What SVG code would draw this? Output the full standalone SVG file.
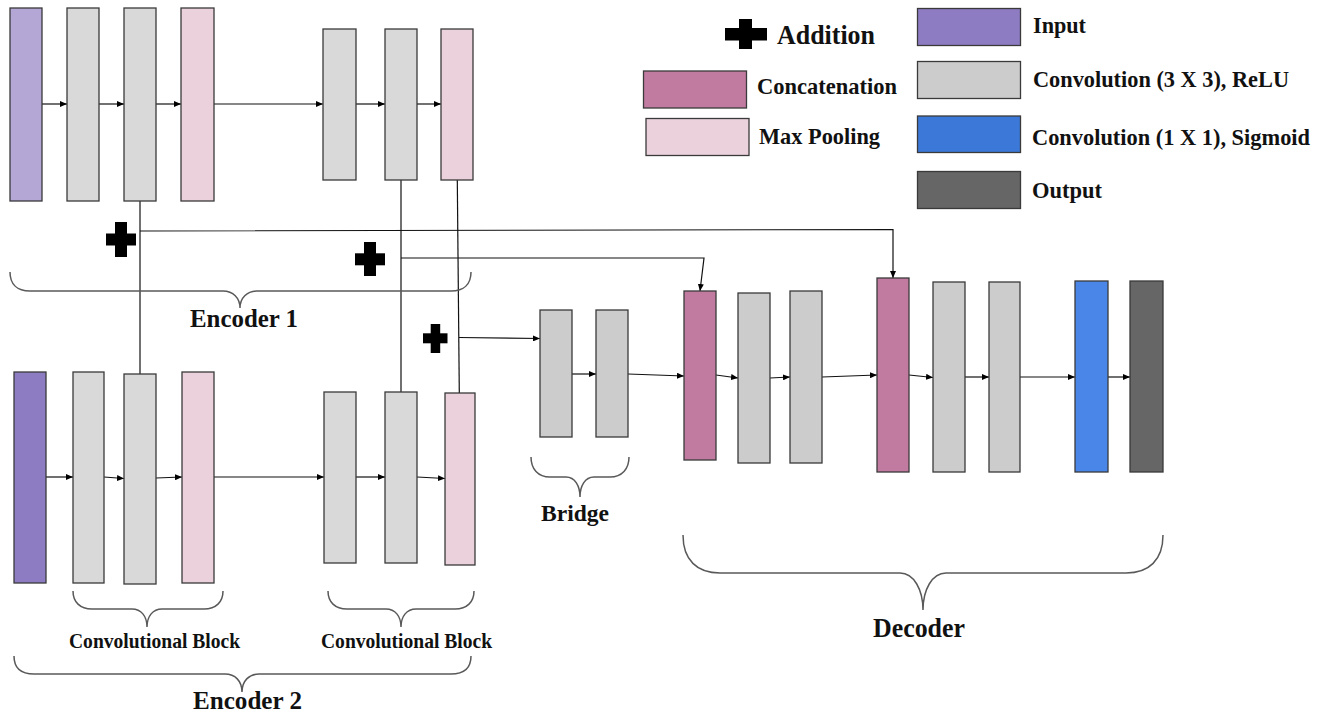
<svg xmlns="http://www.w3.org/2000/svg" width="1329" height="715" viewBox="0 0 1329 715">
<defs>
<marker id="ah" markerUnits="userSpaceOnUse" markerWidth="8" markerHeight="6" refX="7" refY="3" orient="auto">
<path d="M0,0 L7,3 L0,6 z" fill="#000"/>
</marker>
</defs>
<style>
.box{stroke:#3a3a3a;stroke-width:1.3}
.in1{fill:#b4a7d6}.in2{fill:#8e7cc3}
.cv1{fill:#d9d9d9}.cv2{fill:#cccccc}
.mp{fill:#ead1dc}.cc{fill:#c27ba0}
.sg{fill:#4a86e8}.sgl{fill:#3c78d8}.out{fill:#666666}
.ln{fill:none;stroke:#111;stroke-width:1.2}
.ar{fill:none;stroke:#111;stroke-width:1.2;marker-end:url(#ah)}
.br{fill:none;stroke:#595959;stroke-width:1.5}
.plus{fill:#000}
text{font-family:"Liberation Serif","Times New Roman",serif;font-weight:bold;fill:#111}
.lg{font-size:22.5px}
.lbl{font-size:26px}
.cb{font-size:21px}
</style>
<rect width="1329" height="715" fill="#fff"/>

<g id="connectors">
<line class="ar" x1="42" y1="104" x2="67" y2="104"/>
<line class="ar" x1="99" y1="104" x2="124" y2="104"/>
<line class="ar" x1="156" y1="104" x2="181" y2="104"/>
<line class="ar" x1="214" y1="104" x2="323" y2="104"/>
<line class="ar" x1="356" y1="104" x2="385" y2="104"/>
<line class="ar" x1="417" y1="104" x2="441" y2="104"/>
<line class="ar" x1="46" y1="477" x2="73" y2="477"/>
<line class="ar" x1="104" y1="477" x2="124" y2="478.5"/>
<line class="ar" x1="156" y1="478" x2="182" y2="477"/>
<line class="ar" x1="214" y1="477" x2="324" y2="477"/>
<line class="ar" x1="356" y1="477" x2="385" y2="477"/>
<line class="ar" x1="417" y1="477" x2="445" y2="478.5"/>
<line class="ln" x1="140" y1="201" x2="140" y2="374"/>
<line class="ln" x1="401" y1="180" x2="401" y2="392"/>
<line class="ln" x1="457.3" y1="180" x2="459.3" y2="393"/>
<polyline class="ar" points="140,231 893,229.5 893,278"/>
<polyline class="ar" points="401,258 704,258 700,291"/>
<line class="ar" x1="459" y1="337.5" x2="540" y2="338.5"/>
<line class="ar" x1="572" y1="374" x2="596" y2="374"/>
<line class="ar" x1="628" y1="374" x2="684" y2="376"/>
<line class="ar" x1="716" y1="375" x2="738" y2="378"/>
<line class="ar" x1="770" y1="378" x2="790" y2="377"/>
<line class="ar" x1="822" y1="377" x2="877" y2="375"/>
<line class="ar" x1="909" y1="375" x2="933" y2="377.5"/>
<line class="ar" x1="965" y1="377" x2="989" y2="377"/>
<line class="ar" x1="1020" y1="377" x2="1075" y2="377"/>
<line class="ar" x1="1108" y1="377" x2="1130" y2="377"/>
</g>

<g id="encoder1">
<rect id="e1-input" class="box in1" x="10" y="8" width="32" height="193"/>
<rect id="e1-conv1" class="box cv1" x="67" y="8" width="32" height="193"/>
<rect id="e1-conv2" class="box cv1" x="124" y="8" width="32" height="193"/>
<rect id="e1-pool1" class="box mp" x="181" y="8" width="33" height="193"/>
<rect id="e1-conv3" class="box cv1" x="323" y="29" width="33" height="151"/>
<rect id="e1-conv4" class="box cv1" x="385" y="29" width="32" height="151"/>
<rect id="e1-pool2" class="box mp" x="441" y="29" width="32" height="151"/>
</g>

<g id="encoder2">
<rect id="e2-input" class="box in2" x="14" y="372" width="32" height="211"/>
<rect id="e2-conv1" class="box cv1" x="73" y="372" width="31" height="211"/>
<rect id="e2-conv2" class="box cv1" x="124" y="374" width="32" height="210"/>
<rect id="e2-pool1" class="box mp" x="182" y="372" width="32" height="211"/>
<rect id="e2-conv3" class="box cv1" x="324" y="392" width="32" height="171"/>
<rect id="e2-conv4" class="box cv1" x="385" y="392" width="32" height="171"/>
<rect id="e2-pool2" class="box mp" x="445" y="393" width="30" height="172"/>
</g>

<g id="bridge">
<rect id="br-conv1" class="box cv2" x="540" y="310" width="32" height="127"/>
<rect id="br-conv2" class="box cv2" x="596" y="310" width="32" height="127"/>
</g>

<g id="decoder">
<rect id="d-concat1" class="box cc" x="684" y="291" width="32" height="169"/>
<rect id="d-conv1" class="box cv2" x="738" y="293" width="32" height="170"/>
<rect id="d-conv2" class="box cv2" x="790" y="291" width="32" height="172"/>
<rect id="d-concat2" class="box cc" x="877" y="278" width="32" height="194"/>
<rect id="d-conv3" class="box cv2" x="933" y="282" width="32" height="190"/>
<rect id="d-conv4" class="box cv2" x="989" y="282" width="31" height="190"/>
<rect id="d-sigmoid" class="box sg" x="1075" y="281" width="33" height="191"/>
<rect id="d-output" class="box out" x="1130" y="281" width="33" height="191"/>
</g>

<g id="additions">
<g id="plus1" class="plus"><rect x="115" y="222" width="12" height="35"/><rect x="106" y="233.5" width="30" height="12"/></g>
<g id="plus2" class="plus"><rect x="364" y="242" width="12" height="34"/><rect x="355" y="253.3" width="30" height="12"/></g>
<g id="plus3" class="plus"><rect x="430.7" y="324" width="9.5" height="29"/><rect x="423" y="333.3" width="24.5" height="10"/></g>
</g>

<g id="braces">
<path class="br" d="M10,272 C10,284 17,291 30,291 L223,291 C233,291 240,298 240,308 C240,298 247,291 257,291 L451,291 C464,291 471,284 471,272"/>
<path class="br" d="M14,656 C14,668 21,674 34,674 L225,674 C235,674 242,681 242,692 C242,681 249,674 259,674 L451,674 C464,674 471,668 471,656"/>
<path class="br" d="M73,591 C73,602 80,609 92,609 L132,609 C141,609 147,616 147,627 C147,616 153,609 162,609 L204,609 C216,609 223,602 223,591"/>
<path class="br" d="M328,591 C328,602 335,609 347,609 L386,609 C395,609 401,616 401,627 C401,616 407,609 416,609 L455,609 C467,609 474,602 474,591"/>
<path class="br" d="M531,457 C531,469 538,477 550,477 L566,477 C575,477 580,486 580,497 C580,486 585,477 594,477 L610,477 C622,477 629,469 629,457"/>
<path class="br" d="M683,535 C683,560 697,573 720,573 L900,573 C914,573 923,590 923,610 C923,590 932,573 946,573 L1126,573 C1149,573 1163,560 1163,535"/>
</g>

<g id="labels">
<text class="lbl" x="190" y="327" textLength="108" lengthAdjust="spacingAndGlyphs">Encoder 1</text>
<text class="lbl" x="193" y="709" textLength="109" lengthAdjust="spacingAndGlyphs">Encoder 2</text>
<text class="cb" x="69" y="648" textLength="171" lengthAdjust="spacingAndGlyphs">Convolutional Block</text>
<text class="cb" x="321" y="648" textLength="171" lengthAdjust="spacingAndGlyphs">Convolutional Block</text>
<text style="font-size:24px" x="541" y="521" textLength="68" lengthAdjust="spacingAndGlyphs">Bridge</text>
<text style="font-size:27px" x="873" y="637" textLength="92" lengthAdjust="spacingAndGlyphs">Decoder</text>
</g>

<g id="legend">
<g id="legend-addition">
<g class="plus"><rect x="739" y="19" width="13" height="30"/><rect x="725" y="28" width="42" height="12.5"/></g>
<text style="font-size:27px" x="777" y="44" textLength="98" lengthAdjust="spacingAndGlyphs">Addition</text>
</g>
<g id="legend-concat">
<rect class="box cc" x="643.5" y="71" width="103" height="37"/>
<text class="lg" x="757" y="94" textLength="140" lengthAdjust="spacingAndGlyphs">Concatenation</text>
</g>
<g id="legend-pool">
<rect class="box mp" x="646" y="118.5" width="103" height="37"/>
<text class="lg" x="759" y="144" textLength="121" lengthAdjust="spacingAndGlyphs">Max Pooling</text>
</g>
<g id="legend-input">
<rect class="box in2" x="917.5" y="8.5" width="103" height="37"/>
<text class="lg" x="1033" y="33" textLength="53" lengthAdjust="spacingAndGlyphs">Input</text>
</g>
<g id="legend-conv3">
<rect class="box cv2" x="917.5" y="61.5" width="103" height="37"/>
<text class="lg" x="1033" y="87" textLength="256" lengthAdjust="spacingAndGlyphs">Convolution (3 X 3), ReLU</text>
</g>
<g id="legend-conv1">
<rect class="box sgl" x="917.5" y="116" width="103" height="36.5"/>
<text class="lg" x="1032" y="145" textLength="278" lengthAdjust="spacingAndGlyphs">Convolution (1 X 1), Sigmoid</text>
</g>
<g id="legend-output">
<rect class="box out" x="917.5" y="171.5" width="103" height="37"/>
<text class="lg" x="1032" y="198" textLength="70" lengthAdjust="spacingAndGlyphs">Output</text>
</g>
</g>
</svg>
